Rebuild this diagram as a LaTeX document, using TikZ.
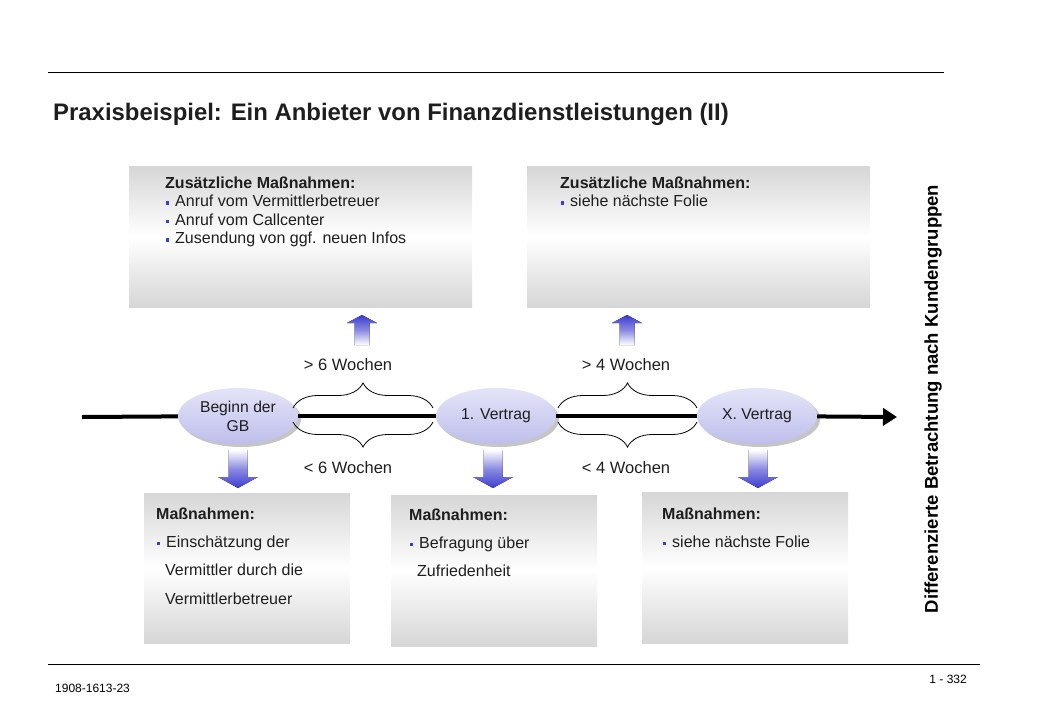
\documentclass[tikz,border=0pt]{standalone}
\usepackage{fontspec}
\setmainfont{Liberation Sans}
\usetikzlibrary{shapes.geometric,shadows,decorations.pathreplacing,arrows.meta}
\definecolor{arrowblue}{HTML}{3C3CCF}
\definecolor{lav}{HTML}{BEBEEC}
\definecolor{lavlight}{HTML}{E4E4F8}
\definecolor{boxgray}{HTML}{D6D6D6}
\definecolor{txtgray}{HTML}{1E1E1E}
\newcommand{\blt}{\textcolor{arrowblue}{\rule[2pt]{3pt}{3.5pt}}\hspace{6pt}}
\begin{document}
\begin{tikzpicture}[x=1pt,y=-1pt,
  hrule/.style={line width=0.9pt, black},
  panel/.style={draw=none, inner sep=0pt, top color=boxgray, bottom color=boxgray, middle color=white},
  txt/.style={anchor=base west, inner sep=0pt, font=\fontsize{16}{18}\selectfont, text=txtgray},
  hd/.style={txt, font=\fontsize{16}{18}\selectfont\bfseries},
  lbl/.style={inner sep=0pt, font=\fontsize{16.5}{18}\selectfont, text=txtgray},
  ell/.style={ellipse, minimum width=120pt, minimum height=56pt, inner sep=0pt,
    top color=lavlight, bottom color=lav, align=center,
    font=\fontsize{15.7}{19}\selectfont, text=txtgray,
    drop shadow={shadow xshift=3pt, shadow yshift=-3pt, fill=black!45}},
  tline/.style={line width=4pt, black},
  brc/.style={decorate, decoration={brace, amplitude=25pt}, line width=0.8pt},
  brcm/.style={decorate, decoration={brace, amplitude=25pt, mirror}, line width=0.8pt},
  uparr/.style={top color=arrowblue, bottom color=white, middle color=arrowblue!60!white},
  dnarr/.style={top color=white, bottom color=arrowblue, middle color=arrowblue!60!white}
]
\useasboundingbox (0,0) rectangle (1040,720);

% rules
\draw[hrule] (48,72) -- (944,72);
\draw[hrule] (48,664) -- (980,664);

% title
\node[anchor=base west, inner sep=0pt, font=\fontsize{23.9}{26}\selectfont\bfseries, text=txtgray] (title) at (53,120.5)
  {Praxisbeispiel: Ein Anbieter von Finanzdienstleistungen (II)};

% footer
\node[anchor=base west, inner sep=0pt, font=\fontsize{12}{14}\selectfont] (foot1) at (55,692) {1908-1613-23};
\node[anchor=base east, inner sep=0pt, font=\fontsize{12}{14}\selectfont] (foot2) at (967,683) {1 - 332};

% vertical text
\node[rotate=90, inner sep=0pt, font=\fontsize{18.5}{20}\selectfont\bfseries, text=black] (vert) at (933,399)
  {Differenzierte Betrachtung nach Kundengruppen};

% top panels
\node[panel, minimum width=343pt, minimum height=141pt] (p1) at (300.5,236.5) {};
\node[panel, minimum width=343pt, minimum height=141pt] (p2) at (698.5,236.5) {};
\node[hd] (p1h) at (165,188) {Zusätzliche Maßnahmen:};
\node[txt] (p1a) at (166,206.5) {\blt Anruf vom Vermittlerbetreuer};
\node[txt] (p1b) at (166,225) {\blt Anruf vom Callcenter};
\node[txt] (p1c) at (166,243.5) {\blt Zusendung von ggf. neuen Infos};
\node[hd] (p2h) at (560,188) {Zusätzliche Maßnahmen:};
\node[txt] (p2a) at (561,206.5) {\blt siehe nächste Folie};

% bottom panels
\node[panel, minimum width=206pt, minimum height=150pt] (q1) at (247,568) {};
\node[panel, minimum width=206pt, minimum height=151pt] (q2) at (494,570.5) {};
\node[panel, minimum width=206pt, minimum height=151pt] (q3) at (745,567.5) {};
\node[hd] (q1h) at (156,519) {Maßnahmen:};
\node[txt] (q1a) at (157,547) {\blt Einschätzung der};
\node[txt] (q1b) at (165,575) {Vermittler durch die};
\node[txt] (q1c) at (165,604) {Vermittlerbetreuer};
\node[hd] (q2h) at (409,520) {Maßnahmen:};
\node[txt] (q2a) at (410,548) {\blt Befragung über};
\node[txt] (q2b) at (417,576) {Zufriedenheit};
\node[hd] (q3h) at (662,519) {Maßnahmen:};
\node[txt] (q3a) at (663,547) {\blt siehe nächste Folie};

% up arrows
\fill[uparr] (362,315) -- (377,323) -- (369.5,323) -- (369.5,345) -- (354.5,345) -- (354.5,323) -- (347,323) -- cycle;
\fill[uparr] (627,315) -- (642,323) -- (634.5,323) -- (634.5,345) -- (619.5,345) -- (619.5,323) -- (612,323) -- cycle;

% down arrows
\foreach \cx in {238,493,758}{
  \fill[dnarr] ({\cx-9.5},450) -- ({\cx+9.5},450) -- ({\cx+9.5},477) -- ({\cx+20},477) -- (\cx,488) -- ({\cx-20},477) -- ({\cx-9.5},477) -- cycle;
}

% timeline
\coordinate (tls) at (82,417);
\coordinate (tle) at (897,417);
\node[ell] (e1) at (238,416) {Beginn der\\GB};
\node[ell] (e2) at (496,416) {1. Vertrag};
\node[ell] (e3) at (757,416) {X. Vertrag};
\draw[tline] (tls) -- (e1);
\draw[tline] (e1) -- (e2);
\draw[tline] (e2) -- (e3);
\draw[tline, -{Triangle[length=14pt,width=17pt]}] (e3) -- (tle);

% braces
\draw[brc] (293,408) -- (433,408);
\draw[brcm] (293,422) -- (433,422);
\draw[brc] (558,408) -- (697,408);
\draw[brcm] (558,422) -- (697,422);

% labels
\node[lbl] (l1) at (348,365) {> 6 Wochen};
\node[lbl] (l2) at (348,468) {< 6 Wochen};
\node[lbl] (l3) at (626,365) {> 4 Wochen};
\node[lbl] (l4) at (626,468) {< 4 Wochen};
\end{tikzpicture}
\end{document}
